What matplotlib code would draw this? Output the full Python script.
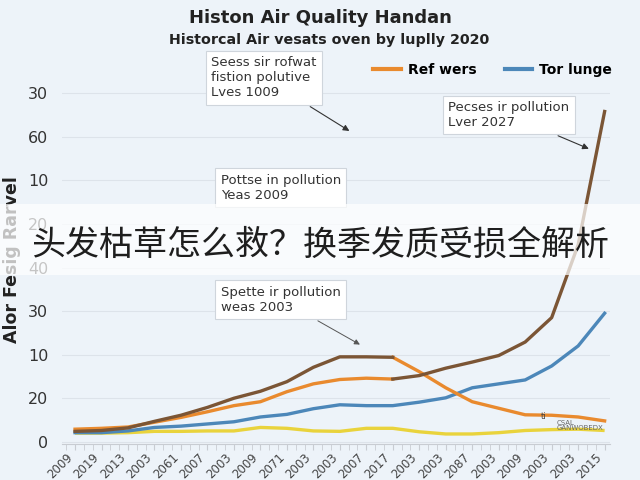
import numpy as np
import matplotlib.pyplot as plt
from matplotlib.ticker import MultipleLocator

plt.rcParams['font.family'] = ['DejaVu Sans', 'Noto Sans CJK SC']

# data (y values in tick steps)
years = ['2009', '2019', '2013', '2003', '2061', '2007', '2003', '2009', '2071', '2003', '2003',
         '2007', '2017', '2003', '2003', '2087', '2003', '2009', '2003', '2003', '2015']
series_a = [0.24, 0.26, 0.32, 0.47, 0.61, 0.79, 1.00, 1.16, 1.38, 1.71, 1.95,
            1.95, 1.94, 1.61, 1.24, 0.92, 0.77, 0.62, 0.61, 0.57, 0.48]
series_b = [0.29, 0.31, 0.34, 0.45, 0.56, 0.69, 0.83, 0.92, 1.15, 1.33, 1.43,
            1.46, 1.44, 1.52, 1.69, 1.83, 1.98, 2.29, 2.85, 4.52, 7.58]
tor_lunge = [0.21, 0.21, 0.25, 0.33, 0.36, 0.41, 0.46, 0.57, 0.63, 0.76, 0.85,
             0.83, 0.83, 0.91, 1.01, 1.24, 1.33, 1.42, 1.74, 2.20, 2.95]
yellow = [0.20, 0.20, 0.21, 0.24, 0.24, 0.25, 0.25, 0.33, 0.31, 0.25, 0.24,
          0.31, 0.31, 0.23, 0.18, 0.18, 0.21, 0.26, 0.28, 0.29, 0.26]
ytick_labels = ['0', '20', '10', '30', '40', '20', '10', '60', '30']
swap = 12  # colours of the two upper lines swap here

bg = '#edf3f9'
brown = '#7b5535'
orange = '#e98a2e'
blue = '#4c87b9'
gold = '#e9d33c'

fig = plt.figure(figsize=(6.4, 4.8), dpi=100, facecolor=bg)
ax = fig.add_axes([0.097, 0.075, 0.856, 0.749], facecolor=bg)

x = np.arange(len(years))
ax.plot(x, yellow, color=gold, lw=2.4, solid_capstyle='butt')
ax.plot(x, tor_lunge, color=blue, lw=2.4)
ax.plot(x[:swap + 1], series_b[:swap + 1], color=orange, lw=2.4)
ax.plot(x[swap:], series_a[swap:], color=orange, lw=2.4)
ax.plot(x[:swap + 1], series_a[:swap + 1], color=brown, lw=2.4)
ax.plot(x[swap:], series_b[swap:], color=brown, lw=2.4)

ax.set_xlim(-0.49, 20.2)
ax.set_ylim(-0.05, 8.2)
ax.set_yticks(range(len(ytick_labels)))
ax.set_yticklabels(ytick_labels, fontsize=11.5, color='#333333')
ax.set_xticks(x)
ax.set_xticklabels(years, rotation=45, ha='right', fontsize=8.5, color='#444444')
ax.xaxis.set_minor_locator(MultipleLocator(1 / 3))
ax.tick_params(axis='y', length=0, pad=10)
ax.tick_params(axis='x', which='both', length=4, color='#c8ccd2', pad=1)
ax.grid(axis='y', color='#dde3ea', lw=0.8)
for s in ['top', 'right', 'left']:
    ax.spines[s].set_visible(False)
ax.spines['bottom'].set_color('#c8ccd2')

# titles
fig.text(0.5, 0.962, 'Histon Air Quality Handan', ha='center', va='center',
         fontsize=13, fontweight='bold', color='#222222')
fig.text(0.515, 0.917, 'Historcal Air vesats oven by luplly 2020', ha='center', va='center',
         fontsize=10.3, fontweight='semibold', color='#222222')
fig.text(0.018, 0.46, 'Alor Fesig Rarvel', rotation=90, ha='center', va='center',
         fontsize=12.5, fontweight='bold', color='#222222', zorder=3)

# legend
ax.plot([], [], color=orange, lw=3, label='Ref wers')
ax.plot([], [], color=blue, lw=3, label='Tor lunge')
h, l = ax.get_legend_handles_labels()
fig.legend(h[-2:], l[-2:], loc='center', bbox_to_anchor=(0.77, 0.855), ncol=2,
           frameon=False, handlelength=2.0, handletextpad=0.5, columnspacing=2.0,
           prop={'weight': 'bold', 'size': 10})

# annotations
box = dict(boxstyle='square,pad=0.4', fc='white', ec='#cfd5dc', lw=0.8)
arr = dict(arrowstyle='-|>', color='#333333', lw=0.8, mutation_scale=9)
ax.annotate('Seess sir rofwat\nfistion polutive\nLves 1009', xy=(10.45, 7.1), xytext=(5.15, 8.35),
            fontsize=9.5, color='#333333', va='center', ha='left', bbox=box, arrowprops=arr)
ax.annotate('Pecses ir pollution\nLver 2027', xy=(19.5, 6.7), xytext=(14.1, 7.5),
            fontsize=9.5, color='#333333', va='center', ha='left', bbox=box, arrowprops=arr)
ax.text(5.5, 5.83, 'Pottse in pollution\nYeas 2009', fontsize=9.5, color='#333333',
        va='center', ha='left', bbox=box)
ax.annotate('Spette ir pollution\nweas 2003', xy=(10.85, 2.2), xytext=(5.5, 3.26),
            fontsize=9.5, color='#333333', va='center', ha='left', bbox=box,
            arrowprops=dict(arrowstyle='-|>', color='#555555', lw=0.7, mutation_scale=8))
ax.text(17.6, 0.52, 'ti', fontsize=6, color='#444444')
ax.text(18.2, 0.28, 'CSAL\nGANWOBEDX', fontsize=5, color='#666666', linespacing=0.8)

# overlay banner
fig.patches.append(plt.Rectangle((0, 0.427), 1, 0.148, transform=fig.transFigure,
                                 fc='white', alpha=0.72, ec='none', zorder=4))
fig.text(0.5, 0.49, '头发枯草怎么救？换季发质受损全解析', ha='center', va='center',
         fontsize=24.5, color='#1e1e1e', zorder=5,
         family=['Noto Sans CJK SC', 'DejaVu Sans'])

fig.savefig('out.png', dpi=100, facecolor=bg)
